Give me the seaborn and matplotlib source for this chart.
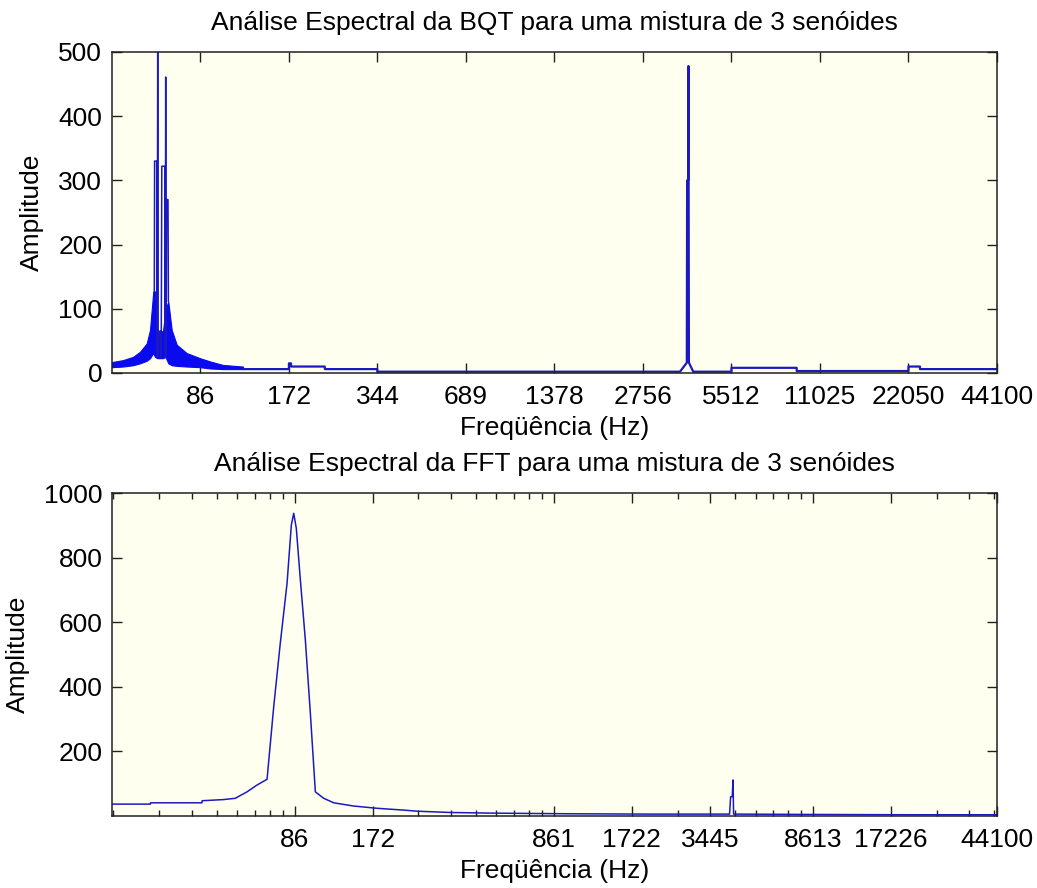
import matplotlib
matplotlib.use("Agg")
import matplotlib.pyplot as plt
import seaborn as sns
from matplotlib.ticker import FixedLocator, NullLocator

# ---------------- data ----------------
# Top panel: BQT spectrum (frequency in Hz, amplitude)
bqt_spike_freq = [59.99, 60.13, 61.13, 61.37, 61.61, 61.85, 62.38, 63.02, 63.32, 63.62,
                  65.13, 65.38, 65.59, 65.79, 66.05, 66.78, 66.99]
bqt_spike_amp = [127, 330, 330, 25, 500, 25, 65, 65, 25, 322,
                 322, 25, 461, 25, 270, 270, 111]

bqt_band_freq = [43.07, 46.95, 50.77, 53.63, 56.52, 58.00, 59.52, 60.32, 61.37, 62.73,
                 64.22, 65.49, 66.94, 68.75, 71.50, 77.31, 85.8, 92.8, 102.7, 120.2]
bqt_band_upper = [17, 20, 25, 33, 46, 67, 127, 127, 60, 65,
                  65, 100, 111, 67, 44, 31, 23, 18, 12.5, 10]
bqt_band_lower = [9, 10, 12, 15, 19, 23, 31, 25, 23, 23,
                  23, 25, 15, 12, 11, 10, 9, 7, 6, 6]

bqt_base_freq = [120.2, 172.1, 172.2, 175.0, 175.1, 228.0, 228.1, 344.0, 344.1, 3683,
                 3885, 3895, 3925, 3935, 3950, 4087, 5512, 5513, 9187, 9188,
                 22050, 22051, 24132, 24133, 44100]
bqt_base_amp = [6, 6, 15, 15, 10, 10, 6, 6, 2, 2,
                16, 300, 300, 478, 16, 2, 2, 8, 8, 3,
                3, 10, 10, 6, 6]

bqt_tick_freq = [86.13, 172.27, 344.53, 689.06, 1378.1, 2756.3, 5512.5, 11025, 22050, 44100]
bqt_tick_labels = ["86", "172", "344", "689", "1378", "2756", "5512", "11025", "22050", "44100"]

# Bottom panel: FFT spectrum
fft_freq = [17.08, 23.9, 23.95, 37.8, 37.85, 45.7, 50.8, 56.4, 61.6, 67.4,
            71.5, 75.8, 80.5, 83.6, 85.4, 87.4, 90.6, 94.7, 99.0, 103.5,
            111.5, 121.9, 145.6, 179.2, 230.4, 255.7, 343.8, 500, 1000, 2000,
            4100, 4140, 4200, 4229, 4250, 8000, 20000, 44100]
fft_amp = [36, 36, 40, 40, 46.5, 50, 54, 74, 95, 113,
           338, 535, 721, 901, 938, 891, 731, 545, 318, 74,
           54, 40, 30, 23, 17, 14, 10, 8, 6, 5,
           5, 59, 59, 111, 5, 4, 3, 3]

fft_tick_freq = [86.13, 172.27, 861.3, 1722.7, 3445.3, 8613.3, 17226.6, 44100]
fft_tick_labels = ["86", "172", "861", "1722", "3445", "8613", "17226", "44100"]

titles = ["Análise Espectral da BQT para uma mistura de 3 senóides",
          "Análise Espectral da FFT para uma mistura de 3 senóides"]
xlabel = "Freqüência (Hz)"
ylabel = "Amplitude"

# ---------------- style ----------------
sns.set_theme(style="white")
plt.rcParams["font.family"] = ["Liberation Sans", "DejaVu Sans"]
plt.rcParams["text.color"] = "black"
plt.rcParams["axes.labelcolor"] = "black"
plt.rcParams["xtick.color"] = "black"
plt.rcParams["ytick.color"] = "black"
FS = 19
AX_BG = "#FFFFF0"
LINE_C = "#1a1ac0"
BAND_C = "#0a0af0"

fig = plt.figure(figsize=(10.37, 8.88), dpi=100, facecolor="white")
ax1 = fig.add_axes([0.108, 0.580, 0.8534, 0.3615])
ax2 = fig.add_axes([0.108, 0.0814, 0.8534, 0.3631])

for ax in (ax1, ax2):
    ax.set_facecolor(AX_BG)
    for s in ax.spines.values():
        s.set_color("#202020")
        s.set_linewidth(1.1)
        s.set_visible(True)

# ---------------- top panel ----------------
ax1.set_xscale("log", base=2)
ax1.fill_between(bqt_band_freq, bqt_band_lower, bqt_band_upper,
                 color=BAND_C, linewidth=0.8, edgecolor=BAND_C)
sns.lineplot(x=bqt_base_freq, y=bqt_base_amp, ax=ax1, color=LINE_C,
             linewidth=1.6, sort=False, estimator=None)
sns.lineplot(x=bqt_spike_freq, y=bqt_spike_amp, ax=ax1, color=LINE_C,
             linewidth=1.1, sort=False, estimator=None)
ax1.set_xlim(43.07, 44100)
ax1.set_ylim(0, 500)
ax1.xaxis.set_major_locator(FixedLocator(bqt_tick_freq))
ax1.set_xticklabels(bqt_tick_labels)
ax1.xaxis.set_minor_locator(NullLocator())
ax1.set_yticks([0, 100, 200, 300, 400, 500])
ax1.set_title(titles[0], fontsize=FS, pad=16, color="black")
ax1.set_xlabel(xlabel, fontsize=FS, labelpad=5)
ax1.set_ylabel(ylabel, fontsize=FS, labelpad=10)

# ---------------- bottom panel ----------------
ax2.set_xscale("log", base=10)
sns.lineplot(x=fft_freq, y=fft_amp, ax=ax2, color=LINE_C,
             linewidth=1.1, sort=False, estimator=None)
ax2.set_xlim(17.0, 44100)
ax2.set_ylim(0, 1000)
ax2.xaxis.set_major_locator(FixedLocator(fft_tick_freq))
ax2.set_xticklabels(fft_tick_labels)
minor = []
for e in (-1, 0, 1, 2):
    for m in range(2, 10):
        v = 86.13 * m * 10 ** e
        if 17.0 < v < 44100 and all(abs(v - t) / t > 0.01 for t in fft_tick_freq):
            minor.append(v)
ax2.xaxis.set_minor_locator(FixedLocator(minor))
ax2.set_yticks([200, 400, 600, 800, 1000])
ax2.set_title(titles[1], fontsize=FS, pad=16, color="black")
ax2.set_xlabel(xlabel, fontsize=FS, labelpad=5)
ax2.set_ylabel(ylabel, fontsize=FS, labelpad=10)

for ax in (ax1, ax2):
    ax.tick_params(axis="both", which="major", direction="in", length=7,
                   width=1.0, color="#202020", labelcolor="black", top=True, right=True,
                   labelsize=FS, bottom=True, left=True)
    ax.tick_params(axis="both", which="minor", direction="in", length=4,
                   width=1.0, color="#202020", top=True, right=True, bottom=True)
    ax.tick_params(axis="x", which="major", pad=9)
    ax.tick_params(axis="y", which="major", pad=7)
    ax.grid(False)

fig.savefig("out.png", dpi=100, facecolor="white")
